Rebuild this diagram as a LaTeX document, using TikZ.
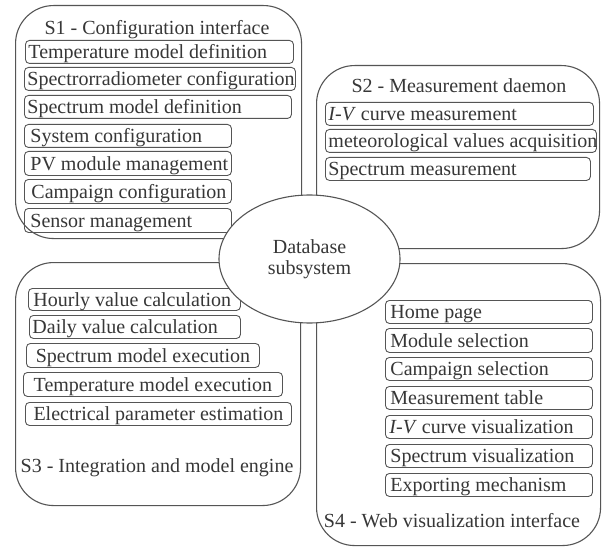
\documentclass[tikz,border=0pt]{standalone}
\usepackage{fontspec}
\setmainfont{Liberation Serif}
\usetikzlibrary{shapes.geometric}
\definecolor{lc}{RGB}{85,85,85}
\definecolor{tc}{RGB}{55,55,55}
\newcommand\dgfont{\fontsize{20}{21}\selectfont}
\tikzset{
  obox/.style={draw=lc, line width=1.1pt, rounded corners=38pt, anchor=north west, inner sep=0pt},
  ibox/.style={draw=lc, line width=0.9pt, rounded corners=4pt, inner xsep=3pt, inner ysep=0pt,
    text height=16.5pt, text depth=2.5pt, anchor=north west, font=\dgfont, text=tc},
  ttl/.style={anchor=base, font=\dgfont, text=tc, inner sep=0pt},
}
\begin{document}
\begin{tikzpicture}[x=1pt,y=-1pt]
\useasboundingbox[fill=white] (0,0) rectangle (604,548);
% outer subsystem boxes
\node[obox, minimum width=286pt, minimum height=233pt] (s1) at (15,5) {};
\node[obox, minimum width=283pt, minimum height=183pt] (s2) at (316,65) {};
\node[obox, minimum width=285pt, minimum height=243pt] (s3) at (15,262) {};
\node[obox, minimum width=284pt, minimum height=282pt] (s4) at (316,263) {};
% titles
\node[ttl] (s1t) at (157,35) {S1 - Configuration interface};
\node[ttl] (s2t) at (459,93) {S2 - Measurement daemon};
\node[ttl] (s3t) at (157,472) {S3 - Integration and model engine};
\node[ttl] (s4t) at (452,527) {S4 - Web visualization interface};
% S1 items
\node[ibox, minimum width=268pt, minimum height=23pt] (a1) at (25,40) {\makebox[262pt][l]{Temperature model definition}};
\node[ibox, minimum width=271pt, minimum height=23pt] (a2) at (24,67) {\makebox[265pt][l]{Spectrorradiometer configuration}};
\node[ibox, minimum width=267pt, minimum height=23pt] (a3) at (24,95) {\makebox[261pt][l]{Spectrum model definition}};
\node[ibox, minimum width=207pt, minimum height=23pt] (a4) at (24,124) {\makebox[199pt][l]{\hspace{2pt}System configuration}};
\node[ibox, minimum width=207pt, minimum height=24pt] (a5) at (24,151) {\makebox[199pt][l]{\hspace{2pt}PV module management}};
\node[ibox, minimum width=207pt, minimum height=24pt] (a6) at (24,179) {\makebox[199pt][l]{\hspace{3pt}Campaign configuration}};
\node[ibox, minimum width=207pt, minimum height=24pt] (a7) at (24,208) {\makebox[199pt][l]{\hspace{2pt}Sensor management}};
% S2 items
\node[ibox, minimum width=268pt, minimum height=23pt] (b1) at (325,102) {\makebox[262pt][l]{\textit{I-V} curve measurement}};
\node[ibox, minimum width=271pt, minimum height=23pt] (b2) at (325,129) {\makebox[265pt][l]{meteorological values acquisition}};
\node[ibox, minimum width=265pt, minimum height=23pt] (b3) at (325,157) {\makebox[259pt][l]{Spectrum measurement}};
% S3 items
\node[ibox, minimum width=212pt, minimum height=22pt] (c1) at (28,288) {\makebox[206pt][l]{\hspace{2pt}Hourly value calculation}};
\node[ibox, minimum width=211pt, minimum height=23pt] (c2) at (29,315) {\makebox[205pt][l]{Daily value calculation}};
\node[ibox, minimum width=233pt, minimum height=24pt] (c3) at (26,343) {\makebox[227pt][c]{Spectrum model execution}};
\node[ibox, minimum width=259pt, minimum height=24pt] (c4) at (23,372) {\makebox[253pt][c]{Temperature model execution}};
\node[ibox, minimum width=266pt, minimum height=23pt] (c5) at (25,402) {\makebox[260pt][c]{Electrical parameter estimation}};
% S4 items
\node[ibox, minimum width=207pt, minimum height=23pt] (d1) at (385,300) {\makebox[201pt][l]{\hspace{2pt}Home page}};
\node[ibox, minimum width=207pt, minimum height=24pt] (d2) at (385,328) {\makebox[201pt][l]{\hspace{2pt}Module selection}};
\node[ibox, minimum width=207pt, minimum height=23pt] (d3) at (385,357) {\makebox[201pt][l]{\hspace{2pt}Campaign selection}};
\node[ibox, minimum width=207pt, minimum height=23pt] (d4) at (385,386) {\makebox[201pt][l]{\hspace{2pt}Measurement table}};
\node[ibox, minimum width=207pt, minimum height=23pt] (d5) at (385,415) {\makebox[201pt][l]{\hspace{1pt}\textit{I-V} curve visualization}};
\node[ibox, minimum width=207pt, minimum height=23pt] (d6) at (385,444) {\makebox[201pt][l]{\hspace{2pt}Spectrum visualization}};
\node[ibox, minimum width=207pt, minimum height=23pt] (d7) at (385,473) {\makebox[201pt][l]{\hspace{2pt}Exporting mechanism}};
% central database
\node[ellipse, draw=lc, line width=1.1pt, fill=white, minimum width=181pt, minimum height=128pt,
  inner sep=0pt, align=center, font=\dgfont, text=tc] (db) at (309.5,259) {Database\\subsystem};
\end{tikzpicture}
\end{document}
